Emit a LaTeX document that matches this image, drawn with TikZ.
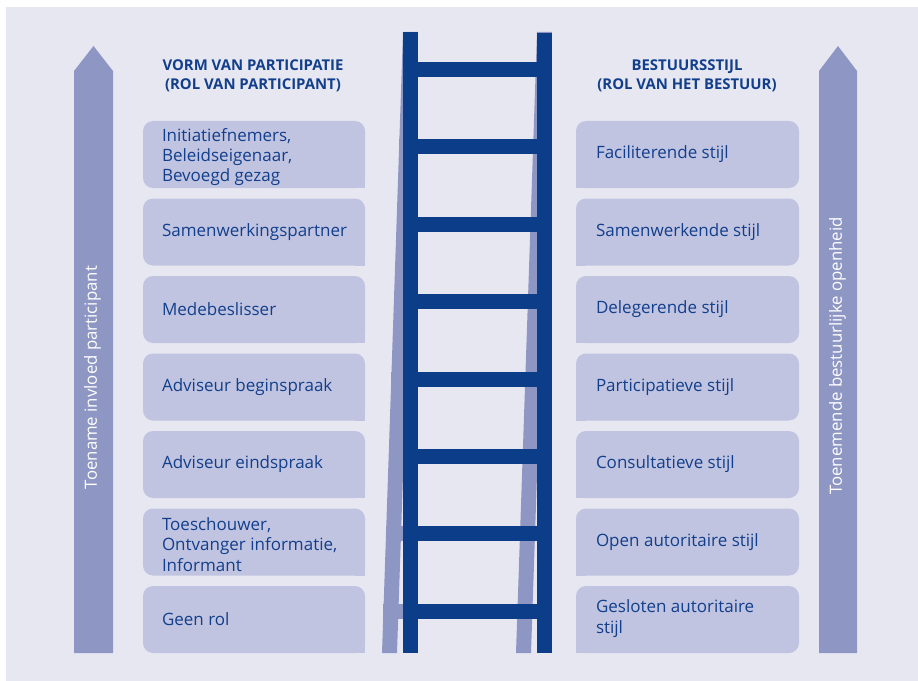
\documentclass[tikz,border=0pt]{standalone}
\usepackage{fontspec}
\setmainfont{Open Sans}
\definecolor{bgc}{HTML}{E7E7F2}
\definecolor{boxc}{HTML}{C1C4E0}
\definecolor{arrc}{HTML}{8E96C4}
\definecolor{ladc}{HTML}{0B3D89}
\definecolor{txtc}{HTML}{123F8C}
\tikzset{
  lbox/.style={fill=boxc, rounded corners=10bp, minimum width=222bp, minimum height=67bp, inner sep=0pt},
  rbox/.style={fill=boxc, rounded corners=10bp, minimum width=223bp, minimum height=67bp, inner sep=0pt},
  btxt/.style={anchor=west, align=left, inner sep=0pt, text=txtc, font=\fontsize{17bp}{20.3bp}\selectfont},
  htxt/.style={align=center, inner sep=0pt, text=txtc, font=\bfseries\fontsize{14.9bp}{19bp}\selectfont},
  atxt/.style={rotate=90, inner sep=0pt, text=white, font=\fontsize{16.8bp}{19bp}\selectfont},
  lad/.style={fill=ladc},
  shad/.style={fill=arrc}
}
\begin{document}
\begin{tikzpicture}[x=1bp,y=-1bp]
\useasboundingbox (0,0) rectangle (918,681);
\fill[white] (0,0) rectangle (918,681);
\fill[bgc] (6,7) rectangle (918,681);
% side arrows
\fill[arrc] (74,653) -- (74,71) -- (93.5,46) -- (113,71) -- (113,653) -- cycle;
\fill[arrc] (819,653) -- (819,71) -- (838,46) -- (857,71) -- (857,653) -- cycle;
\node[atxt] (al) at (92.5,377.5) {Toename invloed participant};
\node[atxt] (ar) at (837.5,356) {Toenemende bestuurlijke openheid};
% headers
\node[htxt] (hl) at (253,75.5) {VORM VAN PARTICIPATIE\\(ROL VAN PARTICIPANT)};
\node[htxt] (hr) at (687,75.5) {BESTUURSSTIJL\\(ROL VAN HET BESTUUR)};
% ladder shadow
\fill[shad] (403,32) -- (418,32) -- (397,653) -- (382,653) -- cycle;
\fill[shad] (537,32) -- (552,32) -- (531,653) -- (516,653) -- cycle;
\foreach \k in {0,...,7}{
  \pgfmathsetmacro{\yc}{69.5+77.4*\k}
  \pgfmathsetmacro{\off}{21*(\yc-32)/621}
  \fill[shad] ({403-\off},{\yc-7.5}) rectangle (418,{\yc+7.5});
}
% ladder
\fill[lad] (403,32) rectangle (418,653);
\fill[lad] (537,33) rectangle (552,653);
\foreach \k in {0,...,7}{
  \pgfmathsetmacro{\yc}{69.5+77.4*\k}
  \fill[lad] (418,{\yc-7.5}) rectangle (537,{\yc+7.5});
}
% left boxes
\foreach \i/\s/\t in {1/-2.5/{Initiatiefnemers,\\Beleidseigenaar,\\Bevoegd gezag},
                   2/0/{Samenwerkingspartner},
                   3/0/{Medebeslisser},
                   4/0/{Adviseur beginspraak},
                   5/0/{Adviseur eindspraak},
                   6/-2.5/{Toeschouwer,\\Ontvanger informatie,\\Informant},
                   7/0/{Geen rol}}{
  \node[lbox] (L\i) at (254,{154.5+77.5*(\i-1)}) {};
  \fill[boxc] (L\i.south east) rectangle ++(-10,-10);
  \node[btxt] (LT\i) at ([xshift=19bp,yshift=\s bp]L\i.west) {\t};
}
% right boxes
\foreach \i/\s/\t in {1/0/{Faciliterende stijl},
                   2/0/{Samenwerkende stijl},
                   3/0/{Delegerende stijl},
                   4/0/{Participatieve stijl},
                   5/0/{Consultatieve stijl},
                   6/0/{Open autoritaire stijl},
                   7/1/{Gesloten autoritaire\\stijl}}{
  \node[rbox] (R\i) at (687.5,{154.5+77.5*(\i-1)}) {};
  \fill[boxc] (R\i.south west) rectangle ++(10,-10);
  \node[btxt] (RT\i) at ([xshift=20bp,yshift=\s bp]R\i.west) {\t};
}
\end{tikzpicture}
\end{document}
